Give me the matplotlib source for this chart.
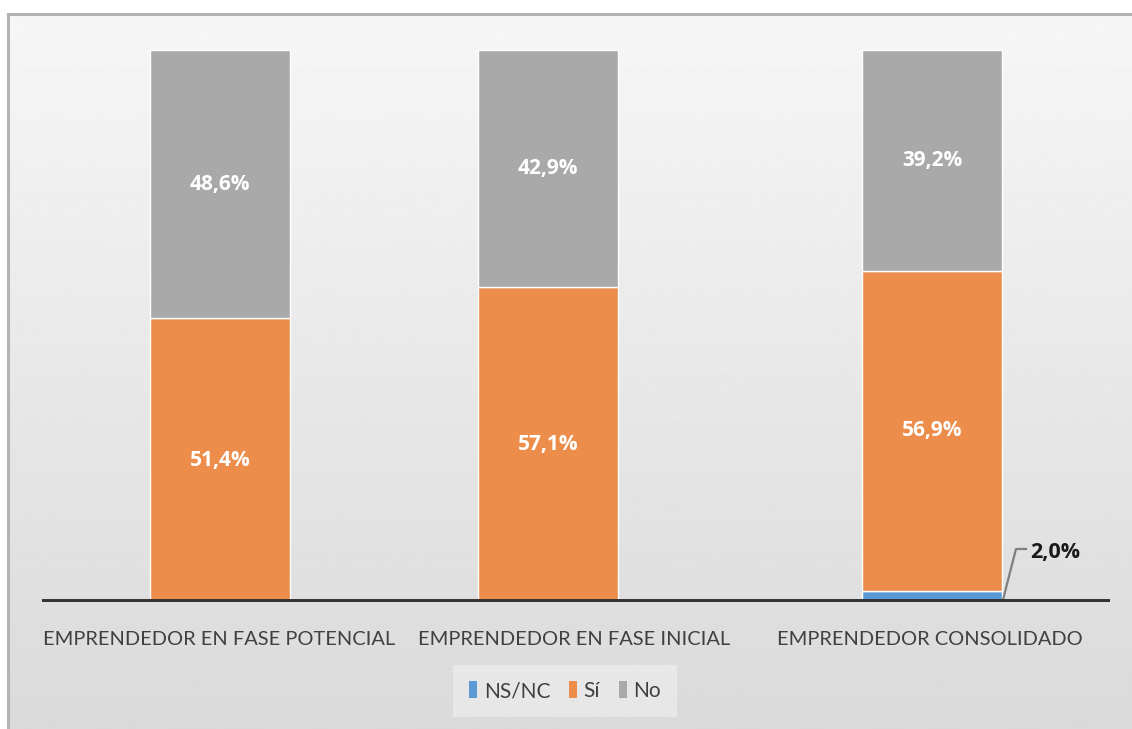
import numpy as np
import matplotlib
matplotlib.use("Agg")
import matplotlib.pyplot as plt
from matplotlib.patches import Patch

categories = ["EMPRENDEDOR EN FASE POTENCIAL", "EMPRENDEDOR EN FASE INICIAL", "EMPRENDEDOR CONSOLIDADO"]
series_names = ["NS/NC", "Sí", "No"]
nsnc = [0.0, 0.0, 2.0]
si = [51.4, 57.1, 56.9]
no = [48.6, 42.9, 39.2]
colors = ["#5b9bd5", "#ed8d4b", "#a9a9a9"]

plt.rcParams['font.family'] = ['Open Sans', 'DejaVu Sans']

W, H = 1132, 729
fig = plt.figure(figsize=(W / 100, H / 100), dpi=100)

# background gradient + frame
bg = fig.add_axes([0, 0, 1, 1])
grad = np.linspace(0.965, 0.855, 256).reshape(-1, 1)
bg.imshow(grad, cmap="gray", vmin=0, vmax=1, aspect="auto",
          extent=[8, W, H, 14], zorder=0)
bg.set_xlim(0, W)
bg.set_ylim(H, 0)
bg.plot([8, W], [14, 14], color="#b3b3b3", lw=2.2, zorder=1)
bg.plot([8, 8], [14, H], color="#b3b3b3", lw=2.2, zorder=1)
bg.axis("off")

# main chart area (pixel layout)
x_left, x_right, y_base, y_top = 42, 1110, 602, 50
ax = fig.add_axes([x_left / W, (H - y_base) / H, (x_right - x_left) / W, (y_base - y_top) / H])
ax.set_xlim(x_left, x_right)
ax.set_ylim(0, 100)
ax.patch.set_alpha(0)
for s in ax.spines.values():
    s.set_visible(False)

centers = [220, 548, 932]
label_x = [219, 574, 930]
bar_w = 140

data = np.array([nsnc, si, no])
totals = data.sum(axis=0)
pct = data / totals * 100

bottom = np.zeros(3)
for i, name in enumerate(series_names):
    ax.bar(centers, pct[i], bar_w, bottom=bottom, color=colors[i],
           edgecolor="white", linewidth=1.0, zorder=2)
    for j in range(3):
        if data[i, j] > 0 and name != "NS/NC":
            ax.text(centers[j], bottom[j] + pct[i, j] / 2,
                    f"{data[i, j]:.1f}".replace(".", ",") + "%",
                    ha="center", va="center", color="white",
                    fontsize=15, fontweight="bold", zorder=4)
    bottom += pct[i]

# leader label for NS/NC
j = 2
x0 = centers[j] + bar_w / 2 + 1
y0 = pct[0, j] * 0.2
ax.plot([x0, x0 + 13, x0 + 23], [y0, y0 + 9.2, y0 + 9.2],
        color="#7f7f7f", lw=1.6, zorder=3, clip_on=False)
ax.text(x0 + 27, y0 + 8.6, f"{nsnc[j]:.1f}".replace(".", ",") + "%",
        ha="left", va="center", fontsize=15.5, fontweight="bold", color="#1a1a1a")

ax.axhline(0, color="#333333", lw=5, zorder=5)
ax.set_yticks([])
ax.set_xticks(label_x)
ax.set_xticklabels(categories, fontsize=14.4, color="#404040", family=["Lato", "DejaVu Sans"])
ax.tick_params(axis="x", length=0, pad=21)

handles = [Patch(facecolor=c, edgecolor="none") for c in colors]
leg = fig.legend(handles, series_names, loc="center", bbox_to_anchor=(565 / W, (H - 691) / H),
                 ncol=3, frameon=True, handlelength=0.4, handleheight=0.85,
                 handletextpad=0.3, columnspacing=0.9, borderpad=0.75, fancybox=False,
                 labelcolor="#404040", prop={"family": ["Lato", "DejaVu Sans"], "size": 15})
leg.get_frame().set_facecolor("#ebebeb")
leg.get_frame().set_edgecolor("none")

fig.savefig("out.png", dpi=100)
